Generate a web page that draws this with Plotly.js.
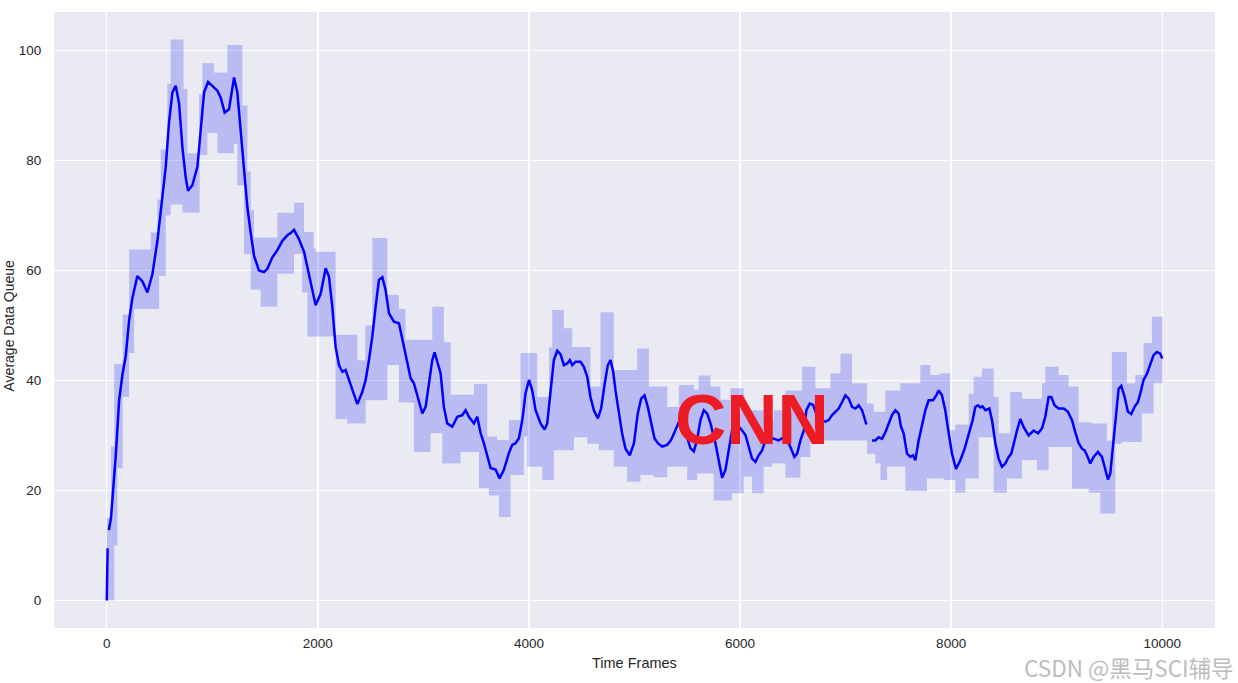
<!DOCTYPE html>
<html>
<head>
<meta charset="utf-8">
<script src="https://cdn.plot.ly/plotly-3.0.1.min.js"></script>
<style>html,body{margin:0;padding:0;background:#fff;}#chart{width:1238px;height:683px;}</style>
</head>
<body>
<div id="chart"></div>
<script>
// Smoothed average queue
const frames = [0,8,14,20,40,85,117,148,180,212,243,290,338,385,432,480,511,559,590,622,653,685,717,748,770,811,859,890,922,960,1000,1048,1080,1117,1158,1206,1237,1269,1300,1332,1364,1395,1442,1490,1521,1569,1616,1664,1711,1743,1774,1821,1869,1916,1950,1979,2027,2074,2105,2137,2168,2200,2232,2263,2295,2326,2374,2421,2453,2484,2516,2547,2579,2611,2642,2674,2721,2768,2800,2847,2879,2910,2942,2990,3021,3052,3084,3106,3131,3163,3194,3226,3273,3321,3368,3400,3431,3479,3510,3542,3573,3605,3636,3684,3722,3763,3810,3842,3873,3905,3937,3968,4000,4031,4063,4110,4148,4173,4205,4236,4268,4299,4331,4362,4387,4410,4441,4489,4520,4552,4583,4615,4653,4684,4716,4747,4773,4798,4820,4851,4883,4915,4955,4994,5031,5063,5095,5126,5158,5189,5221,5262,5310,5347,5388,5429,5467,5499,5530,5562,5593,5625,5657,5688,5720,5767,5799,5830,5862,5893,5925,5960,6004,6051,6082,6114,6146,6177,6209,6240,6272,6319,6367,6414,6446,6477,6515,6541,6572,6604,6629,6660,6692,6723,6761,6809,6840,6872,6903,6935,6967,6998,7030,7061,7093,7124,7156,7178,7197,7225,7251,7282,7313,7345,7377,7408,7440,7472,7503,7525,7550,7582,7614,7639,7661,7692,7724,7756,7787,7828,7860,7882,7913,7945,7977,8008,8046,8087,8128,8172,8204,8229,8254,8277,8298,8324,8362,8387,8419,8450,8482,8513,8545,8570,8598,8624,8655,8687,8734,8782,8823,8861,8892,8924,8949,8980,9018,9066,9107,9145,9176,9208,9240,9264,9287,9318,9350,9391,9429,9460,9486,9508,9539,9562,9587,9612,9644,9675,9706,9738,9770,9792,9823,9855,9886,9918,9950,9981,10000];
const queue = [0,9.5,null,12.8,15,26.3,36.4,41,44.5,51,55,59,58,56,59.3,65.4,70.8,78.9,87,92.4,93.6,90.4,82.3,76.9,74.5,75.5,78.9,86.3,92.4,94.3,93.6,92.7,91.4,88.7,89.3,95.1,92.4,85,78.2,71.5,66.8,62.7,60,59.7,60.3,62.4,63.7,65.4,66.4,66.8,67.4,65.7,63.4,59.3,56,53.7,55.8,60.4,58.9,53.4,46.1,42.8,41.6,41.9,40.1,38.2,35.7,37.9,40.1,43.7,48,53.4,58.3,58.8,56.4,52.2,50.7,50.4,47.4,43.1,40.4,39.5,37.1,34,35.2,39.5,43.7,45.1,43.4,41.3,35.2,32.2,31.6,33.4,33.7,34.6,33.4,32.2,33.4,30.4,28.6,26.2,24.1,23.8,22.2,23.8,26.8,28.3,28.6,29.5,32.8,37.7,40.1,38.2,34.6,32.2,31.1,32.2,38.2,43.7,45.4,44.8,42.8,43.1,43.7,42.8,43.4,43.4,42.5,40.7,37,34.6,33.1,34.9,39.2,42.8,43.7,41.6,38.2,34,30.3,27.6,26.4,28.5,34,36.7,37.3,35.2,32.2,29.5,28.6,28,28.3,29.2,31,32.8,31.6,29.8,27.7,27.1,29.2,32.8,34.6,34,32.2,28.6,25.3,22.3,23.8,27.4,31,32,31.3,30.1,27.9,25.8,25.2,26.4,27.3,29.1,29.7,29.4,29.1,29.7,29.1,27.9,26.1,26.7,29.1,30.9,34.6,35.8,35.6,33.9,32.8,32.5,32.8,33.7,34.3,34.9,36.1,37.3,36.7,35.2,34.9,35.5,34.6,33.1,32,null,29.1,29.1,29.7,29.4,30.6,32.2,33.7,34.6,34,31.6,30.4,26.7,26.1,26.4,25.5,29.1,31.9,34.6,36.4,36.4,37.3,38.2,37.3,34.5,30.4,26.7,23.9,25.5,27.6,30.4,32.8,35.2,35.5,35.1,35.3,34.6,34.9,32.8,28.6,25.8,24.3,24.9,26.1,26.7,29.1,30.9,33,31.5,30,30.9,30.4,31.3,33.4,37,37,35.5,34.9,34.9,34.3,32.8,30.6,28.6,27.6,27.3,26.4,24.9,26.1,27,26.1,23.7,22,23.1,29.1,34.6,38.5,39,37,34.3,33.9,35.2,36.1,37.6,40.1,41.2,43,44.6,45.2,44.9,44];

// Band edges (step blocks)
const upperFrames = [0,40,70,150,212,417,480,511,574,606,727,764,874,906,1017,1142,1285,1332,1364,1395,1616,1774,1869,1960,1979,2168,2374,2450,2516,2658,2768,2830,3084,3194,3258,3479,3605,3699,3810,3920,4078,4190,4220,4331,4410,4583,4678,4804,5025,5136,5310,5420,5562,5609,5720,5814,5909,6035,6224,6319,6430,6588,6714,6856,6951,7061,7203,7266,7377,7519,7708,7803,7898,7992,8040,8166,8213,8292,8403,8450,8560,8671,8861,8892,9018,9113,9208,9334,9476,9523,9666,9744,9823,9902,10003];
const upperValues = [15,28,43,52,63.8,66.9,72.9,82,94,102,93,81.3,92,97.7,96,101,90,78,71,66,70.5,72.3,67,64,63.4,48.3,43.7,50,65.9,55.6,53,47.4,53.4,47,37.4,39.4,29.8,29.2,32.8,45,37,46,52.8,49.5,46.1,38.9,52.4,41.9,45.8,38.9,35.2,39.2,38.3,40.9,38.9,36.5,38.6,34.6,32.8,34.6,38.2,42.5,38.6,41.3,44.9,39.5,35.8,34.3,38.2,39.5,42.8,41,41.3,31,32,37.6,40.7,42.2,37,30.4,37.9,36.7,39.5,42.5,41,38.9,32.4,32.2,29.1,45.2,39.5,41,46.8,51.6,51.6];
const lowerFrames = [0,70,101,150,212,259,496,559,606,717,880,953,1048,1206,1237,1300,1364,1458,1616,1774,1850,1900,2168,2279,2453,2658,2768,2910,3068,3179,3352,3526,3620,3715,3826,3952,3983,4126,4236,4426,4552,4662,4804,4930,5057,5183,5310,5499,5593,5751,5925,6035,6114,6224,6303,6430,6572,6667,7203,7282,7330,7393,7566,7771,7929,8040,8134,8261,8403,8529,8671,8813,8924,9145,9303,9413,9555,9618,9807,9918,10003];
const lowerValues = [0,10,24,37,45,53,59,70,72,70.5,81,85,81.3,83,75.5,63,56.5,53.4,59.4,63,56,48,33,32.2,36.4,42.8,36,27,30.4,24.9,27,20.4,19.1,15.2,22.8,29.8,24.3,21.9,27.3,29.7,28.5,27.3,24.3,21.6,22.8,22.4,24.3,21.9,23.1,18.2,19.5,22.5,19.5,24.3,24.9,22.3,26.1,29.1,26.7,24.9,21.9,24.3,19.9,22.2,21.9,19.6,22.2,29.7,19.6,22.2,25.5,23.7,27.9,20.3,19.6,15.8,28.5,28.8,34,39.5,39.5];

const xTicks = [0,2000,4000,6000,8000,10000];
const yTicks = [0,20,40,60,80,100];

const FONT = 'Liberation Sans, Arial, sans-serif';

const traces = [
  {x: lowerFrames, y: lowerValues, type: 'scatter', mode: 'lines',
   line: {width: 0, shape: 'hv', color: 'rgba(0,0,255,0)'}, hoverinfo: 'skip', showlegend: false},
  {x: upperFrames, y: upperValues, type: 'scatter', mode: 'lines',
   line: {width: 0, shape: 'hv', color: 'rgba(0,0,255,0)'}, fill: 'tonexty',
   fillcolor: 'rgba(0,0,255,0.2)', hoverinfo: 'skip', showlegend: false},
  {x: frames, y: queue, type: 'scatter', mode: 'lines', connectgaps: false,
   line: {width: 2.5, color: '#0000ff'}, showlegend: false}
];

const layout = {
  width: 1238, height: 683,
  margin: {l: 54, r: 23, t: 12, b: 55},
  paper_bgcolor: '#ffffff',
  plot_bgcolor: '#eaeaf2',
  showlegend: false,
  font: {family: FONT, size: 13.5, color: '#262626'},
  xaxis: {range: [-500, 10500], tickvals: xTicks, ticktext: xTicks.map(String),
          showgrid: true, gridcolor: '#ffffff', gridwidth: 1.3, zeroline: false,
          showline: false, ticks: 'outside', ticklen: 3, tickcolor: 'rgba(0,0,0,0)',
          tickfont: {family: FONT, size: 13.5, color: '#262626'}},
  yaxis: {range: [-5, 107], tickvals: yTicks, ticktext: yTicks.map(String),
          showgrid: true, gridcolor: '#ffffff', gridwidth: 1.3, zeroline: false,
          showline: false, ticks: 'outside', ticklen: 9, tickcolor: 'rgba(0,0,0,0)',
          tickfont: {family: FONT, size: 13.5, color: '#262626'}},
  annotations: [
    {text: 'CNN', x: 6000, y: 33, xref: 'x', yref: 'y', showarrow: false,
     xanchor: 'center', yanchor: 'middle', xshift: 12,
     font: {family: FONT, size: 71, color: '#ed1c24', weight: 'bold'}},
    {text: 'Time Frames', xref: 'paper', yref: 'paper', x: 0.5, y: -0.0568,
     xanchor: 'center', yanchor: 'middle', showarrow: false,
     font: {family: FONT, size: 14.5, color: '#262626'}},
    {text: 'Average Data Queue', xref: 'paper', yref: 'paper', x: -0.0385, y: 0.49,
     xanchor: 'center', yanchor: 'middle', textangle: -90, showarrow: false,
     font: {family: FONT, size: 14, color: '#262626'}},
    {text: 'CSDN @黑马SCI辅导', xref: 'paper', yref: 'paper', x: 1.0175, y: -0.0625,
     xanchor: 'right', yanchor: 'middle', showarrow: false, borderpad: 0,
     font: {family: 'Noto Sans CJK SC, Liberation Sans, sans-serif', size: 22.5, color: 'rgba(170,170,170,0.8)'}}
  ]
};

Plotly.newPlot('chart', traces, layout, {displayModeBar: false, staticPlot: true});
</script>
</body>
</html>
